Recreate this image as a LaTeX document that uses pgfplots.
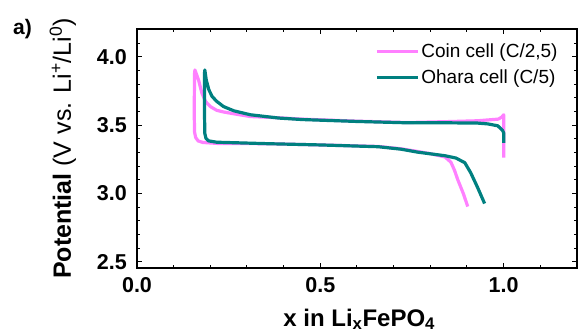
\documentclass[border=0pt]{standalone}
\usepackage{fontspec}
\setmainfont{Liberation Sans}
\usepackage{pgfplots}
\pgfplotsset{compat=1.18}
\definecolor{coin}{RGB}{255,128,255}
\definecolor{ohara}{RGB}{0,128,128}
\begin{document}
\begin{tikzpicture}
\begin{axis}[name=ax, scale only axis, width=440pt, height=239pt,
  xmin=0, xmax=1.2, ymin=2.455, ymax=4.205,
  xtick={0,0.5,1.0}, xticklabels={0.0,0.5,1.0},
  minor xtick={0.1,0.2,0.3,0.4,0.6,0.7,0.8,0.9,1.1},
  ytick={2.5,3.0,3.5,4.0}, yticklabels={2.5,3.0,3.5,4.0},
  minor ytick={2.6,2.7,2.8,2.9,3.1,3.2,3.3,3.4,3.6,3.7,3.8,3.9,4.1},
  tick align=inside,
  major tick length=5pt, minor tick length=3pt,
  every tick/.style={black, line width=1pt},
  axis line style={line width=1.6pt},
  xticklabel style={font=\bfseries\fontsize{21.5}{25}\selectfont, anchor=base, yshift=-25pt},
  yticklabel style={font=\bfseries\fontsize{21.5}{25}\selectfont, anchor=east, inner sep=0pt, xshift=-10pt},
  xlabel={x in Li\textsubscript{x}FePO\textsubscript{4}},
  xlabel style={font=\bfseries\fontsize{24}{28}\selectfont, at={(axis description cs:0.505,-0.243)}, anchor=base},
  ylabel={\textbf{Potential} (V vs. Li\textsuperscript{+}/Li\textsuperscript{0})},
  ylabel style={font=\fontsize{25}{29}\selectfont, at={(axis description cs:-0.15,0.5)}, anchor=base},
  legend style={at={(axis description cs:0.534,0.955)}, anchor=north west, draw=none, fill=none,
    font=\fontsize{19}{22}\selectfont, row sep=7pt},
  legend cell align=left,
  legend image code/.code={\draw[#1] (0pt,0pt) -- (41pt,0pt);},
]
\addplot[coin, line width=3.2pt, line join=round] coordinates {
(1.000,3.263) (1.000,3.50) (1.000,3.577) (0.995,3.560) (0.985,3.545) (0.929,3.533)
(0.850,3.527) (0.739,3.520) (0.600,3.530) (0.450,3.545) (0.386,3.555) (0.309,3.564)
(0.264,3.584) (0.235,3.598) (0.217,3.610) (0.200,3.637) (0.187,3.674) (0.177,3.735)
(0.168,3.830) (0.158,3.905) (0.157,3.880) (0.156,3.600) (0.157,3.450) (0.160,3.410)
(0.167,3.385) (0.180,3.374) (0.220,3.367) (0.359,3.365) (0.500,3.356) (0.658,3.345)
(0.720,3.328) (0.766,3.308) (0.800,3.292) (0.840,3.268) (0.856,3.230) (0.866,3.170)
(0.875,3.100) (0.890,3.000) (0.902,2.905)
};
\addlegendentry{Coin cell (C/2,5)}
\addplot[ohara, line width=3.2pt, line join=round] coordinates {
(1.000,3.372) (1.000,3.445) (0.997,3.462) (0.984,3.496) (0.957,3.510) (0.929,3.516)
(0.850,3.518) (0.739,3.518) (0.600,3.528) (0.450,3.542) (0.386,3.553) (0.309,3.577)
(0.264,3.606) (0.236,3.637) (0.218,3.674) (0.205,3.710) (0.196,3.760) (0.189,3.830)
(0.185,3.905) (0.184,3.880) (0.184,3.600) (0.185,3.440) (0.188,3.405) (0.195,3.386)
(0.217,3.376) (0.359,3.365) (0.500,3.356) (0.658,3.343) (0.720,3.325) (0.766,3.303)
(0.840,3.277) (0.870,3.260) (0.894,3.226) (0.910,3.153) (0.929,3.044) (0.948,2.927)
};
\addlegendentry{Ohara cell (C/5)}
\end{axis}
\node[anchor=base west, font=\bfseries\fontsize{21}{25}\selectfont, inner sep=0pt] at ([shift={(-124pt,-6pt)}]ax.north west) {a)};
\pgfresetboundingbox
\path[use as bounding box] ([shift={(-137pt,-65pt)}]ax.south west) rectangle ([shift={(2pt,29pt)}]ax.north east);
\end{tikzpicture}
\end{document}
